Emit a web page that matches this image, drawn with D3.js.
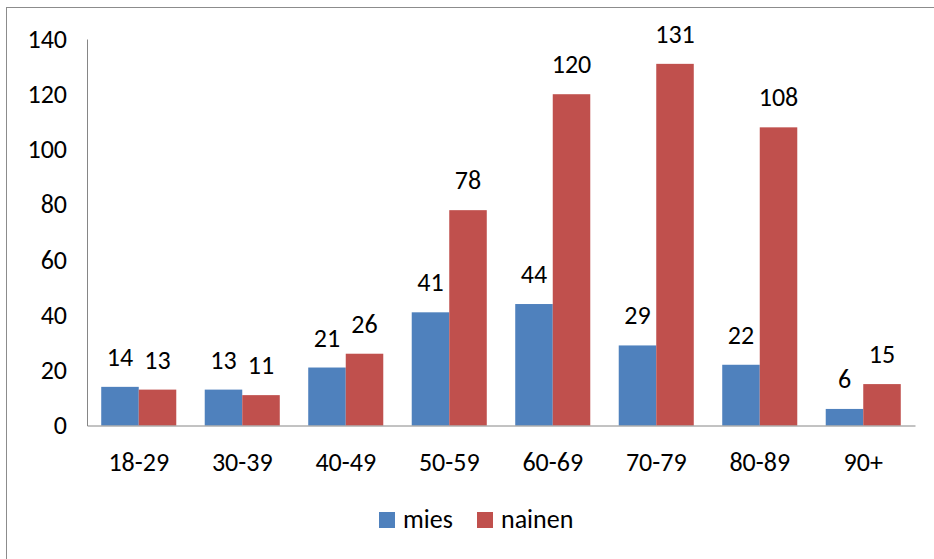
<!DOCTYPE html>
<html>
<head>
<meta charset="utf-8">
<script src="https://cdn.jsdelivr.net/npm/d3@7"></script>
<style>
	body { margin: 0; background: #fff; }
	text { font-family: Carlito, Calibri, "Liberation Sans", sans-serif; fill: #000; }
</style>
</head>
<body>
<svg width="934" height="559"></svg>
<script>
const categories = ["18-29", "30-39", "40-49", "50-59", "60-69", "70-79", "80-89", "90+"]
const mies = [14, 13, 21, 41, 44, 29, 22, 6]
const nainen = [13, 11, 26, 78, 120, 131, 108, 15]
const seriesNames = ["mies", "nainen"]
const colors = ["#4F81BD", "#C0504D"]
const yTicks = [0, 20, 40, 60, 80, 100, 120, 140]

const svg = d3.select("svg")
const fs = 26

// outer frame
svg.append("rect")
	.attr("x", 6.5).attr("y", 7.5)
	.attr("width", 1000).attr("height", 1000)
	.attr("fill", "none").attr("stroke", "#8c8c8c")

let plotL = 87, plotR = 915, plotT = 39, plotB = 425.5

let x0 = d3.scaleBand().domain(categories).range([plotL, plotR])
	.paddingInner(0.275).paddingOuter(0.1375)
let x1 = d3.scaleBand().domain(seriesNames).range([0, x0.bandwidth()])
let y = d3.scaleLinear().domain([0, 140]).range([plotB, plotT])

let rows = categories.map((c, i) => ({cat: c, vals: [mies[i], nainen[i]]}))

let g = svg.append("g").selectAll("g").data(rows).join("g")
	.attr("transform", d => `translate(${x0(d.cat)},0)`)

g.selectAll("rect").data(d => d.vals.map((v, j) => ({v, j})))
	.join("rect")
	.attr("x", d => x1(seriesNames[d.j]))
	.attr("y", d => y(d.v))
	.attr("width", x1.bandwidth())
	.attr("height", d => plotB - y(d.v))
	.attr("fill", d => colors[d.j])

g.selectAll("text.lbl").data(d => d.vals.map((v, j) => ({v, j})))
	.join("text")
	.attr("class", "lbl")
	.attr("x", d => x1(seriesNames[d.j]) + x1.bandwidth()/2)
	.attr("y", d => y(d.v) - 21)
	.attr("text-anchor", "middle")
	.style("font-size", fs + "px")
	.text(d => d.v)

// y axis
let yAxis = svg.append("g")
	.attr("transform", `translate(${plotL},0)`)
	.call(d3.axisLeft(y).tickValues(yTicks).tickSize(0).tickPadding(20))
yAxis.select(".domain").attr("stroke", "#868686")
yAxis.selectAll("text").style("font-size", fs + "px").attr("fill", "#000")

// x axis
let xAxis = svg.append("g")
	.attr("transform", `translate(0,${plotB})`)
	.call(d3.axisBottom(x0).tickSize(0).tickPadding(27))
xAxis.select(".domain").attr("stroke", "#868686")
xAxis.selectAll("text").style("font-size", fs + "px").attr("fill", "#000")

// legend
let legendX = [379, 477]
let lg = svg.append("g").selectAll("g").data(seriesNames).join("g")
	.attr("transform", (d, i) => `translate(${legendX[i]},512)`)
lg.append("rect").attr("width", 16).attr("height", 16)
	.attr("fill", (d, i) => colors[i])
lg.append("text").attr("x", 24).attr("y", 16)
	.style("font-size", fs + "px")
	.text(d => d)
</script>
</body>
</html>
